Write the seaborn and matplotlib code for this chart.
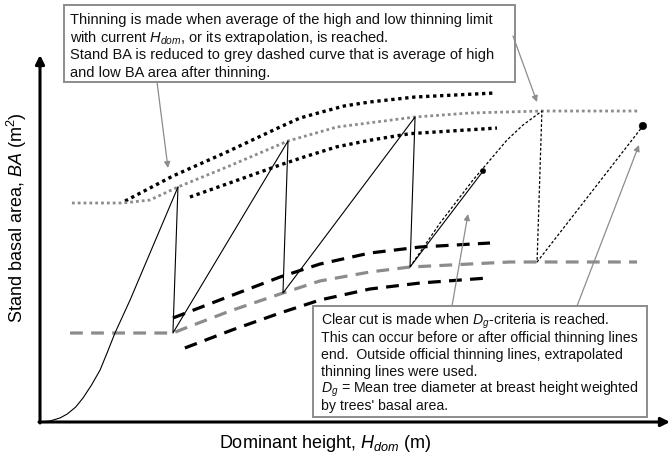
import matplotlib
matplotlib.use("Agg")
import matplotlib.pyplot as plt
import seaborn as sns
from matplotlib.patches import Rectangle

sns.set_theme(style="white")
plt.rcParams["font.family"] = ["Liberation Sans", "DejaVu Sans"]
plt.rcParams["mathtext.fontset"] = "custom"
plt.rcParams["mathtext.rm"] = "Liberation Sans"
plt.rcParams["mathtext.it"] = "Liberation Sans:italic"
plt.rcParams["mathtext.bf"] = "Liberation Sans:bold"

# ---- schematic curves: dominant height (x) vs stand basal area (y) ----
# initial stand development
growth0_h = [0.0, 0.48, 0.95, 1.30, 1.70, 2.05, 2.45, 2.86, 3.20, 3.57, 4.29, 6.57]
growth0_ba = [0.0, 0.14, 0.55, 1.10, 2.05, 3.30, 5.05, 7.12, 9.50, 12.19, 16.71, 32.19]

# upper thinning limit (before thinning), high and low
limit_hi_h = [4.05, 6.33, 8.90, 11.43, 12.38, 13.33, 14.50, 15.71, 17.86, 21.67]
limit_hi_ba = [30.27, 33.70, 36.99, 40.41, 41.64, 42.40, 43.30, 43.84, 44.52, 45.07]
limit_lo_h = [7.14, 9.29, 11.43, 12.57, 14.14, 15.71, 17.62, 21.76]
limit_lo_ba = [30.82, 33.01, 35.21, 36.30, 37.70, 38.60, 39.50, 40.27]
# average thinning limit (grey dotted)
limit_avg_h = [1.52, 3.95, 5.24, 6.57, 8.90, 11.81, 14.14, 17.86, 20.48, 23.90, 28.57]
limit_avg_ba = [30.0, 30.0, 30.41, 32.19, 34.93, 38.49, 40.41, 41.78, 42.33, 42.60, 42.60]

# basal area after thinning, high and low
after_hi_h = [6.33, 8.81, 11.43, 13.33, 15.71, 18.10, 21.43]
after_hi_ba = [14.25, 16.99, 19.86, 21.64, 23.15, 23.97, 24.52]
after_lo_h = [6.90, 9.14, 11.43, 13.33, 15.71, 18.10, 21.33]
after_lo_ba = [10.14, 12.60, 14.93, 16.71, 18.22, 19.04, 19.73]
# average BA after thinning (grey dashed)
after_avg_h = [1.43, 6.33, 6.81, 9.05, 11.57, 13.33, 15.71, 17.62, 22.38, 28.43]
after_avg_ba = [12.19, 12.19, 12.74, 15.21, 17.67, 19.32, 20.55, 21.23, 21.92, 21.92]

# growth and thinning path (thin solid)
path_h = [6.57, 6.33, 11.81, 11.57, 17.86, 17.62, 21.10]
path_ba = [32.19, 12.19, 38.49, 17.67, 41.78, 21.23, 34.38]

# extrapolated path (thin dotted)
extra_h = [17.62, 19.05, 20.62, 22.24, 23.00, 23.90, 23.67, 28.71]
extra_ba = [21.23, 27.26, 33.15, 38.63, 40.68, 42.60, 21.92, 40.55]

# clear-cut points
cut_h = [21.10, 28.71]
cut_ba = [34.38, 40.55]
cut_size = [14, 30]

GREY = "#8c8c8c"

fig = plt.figure(figsize=(6.7, 4.55), dpi=100)
ax = fig.add_axes([40 / 670, 33 / 455, 630 / 670, 365 / 455])
ax.set_xlim(0, 30)
ax.set_ylim(0, 50)
ax.set_xticks([])
ax.set_yticks([])
for sp in ax.spines.values():
    sp.set_visible(False)
ax.patch.set_alpha(0)


def curve(h, ba, **kw):
    sns.lineplot(x=h, y=ba, ax=ax, sort=False, estimator=None, **kw)


dot_style = (0, (1, 1.1))
dash_style = (0, (4, 2.6))

curve(limit_hi_h, limit_hi_ba, color="black", lw=2.4, linestyle=dot_style)
curve(limit_lo_h, limit_lo_ba, color="black", lw=2.4, linestyle=dot_style)
curve(limit_avg_h, limit_avg_ba, color=GREY, lw=2.0, linestyle=dot_style)

curve(after_hi_h, after_hi_ba, color="black", lw=2.3, linestyle=dash_style)
curve(after_lo_h, after_lo_ba, color="black", lw=2.3, linestyle=dash_style)
curve(after_avg_h, after_avg_ba, color=GREY, lw=2.3, linestyle=dash_style)

curve(growth0_h, growth0_ba, color="black", lw=0.8)
curve(path_h, path_ba, color="black", lw=0.8)
curve(extra_h, extra_ba, color="black", lw=0.9, linestyle=(0, (2.2, 1.6)))

sns.scatterplot(x=cut_h, y=cut_ba, size=cut_size, sizes=(14, 30), color="black",
                edgecolor="black", ax=ax, legend=False, zorder=5)
ax.set_xlabel("")
ax.set_ylabel("")

# ---- overlay in pixel units for axes arrows, titles, notes and pointers ----
ov = fig.add_axes([0, 0, 1, 1], zorder=3)
ov.set_xlim(0, 670)
ov.set_ylim(455, 0)
ov.axis("off")

ov.text(325, 443, r"Dominant height, $H_{dom}$ (m)", fontsize=13, ha="center",
        va="center", color="black")
ov.text(17, 218, r"Stand basal area, $BA$ (m$^2$)", fontsize=13, ha="center",
        va="center", rotation=90, color="black")

axis_arrow = dict(arrowstyle="-|>", color="black", lw=2.2, mutation_scale=13,
                  shrinkA=0, shrinkB=0)
ov.annotate("", xy=(40, 55), xytext=(40, 423), arrowprops=axis_arrow)
ov.annotate("", xy=(670, 422), xytext=(39, 422), arrowprops=axis_arrow)

ov.add_patch(Rectangle((64, 5), 451, 77, facecolor="white", edgecolor=GREY, lw=1.4))
top_lines = [
    "Thinning is made when average of the high and low thinning limit",
    r"with current $H_{dom}$, or its extrapolation, is reached.",
    "Stand BA is reduced to grey dashed curve that is average of high",
    "and low BA area after thinning.",
]
for i, line in enumerate(top_lines):
    ov.text(70, 24 + 17.7 * i, line, fontsize=10.5, va="baseline", ha="left",
            color="#111111")

ov.add_patch(Rectangle((313, 306), 334, 111, facecolor="white", edgecolor=GREY, lw=1.4))
bottom_lines = [
    r"Clear cut is made when $D_g$-criteria is reached.",
    "This can occur before or after official thinning lines",
    "end.  Outside official thinning lines, extrapolated",
    "thinning lines were used.",
    r"$D_g$ = Mean tree diameter at breast height weighted",
    "by trees' basal area.",
]
for i, line in enumerate(bottom_lines):
    ov.text(321, 325 + 17 * i, line, fontsize=10.2, va="baseline", ha="left",
            color="#111111")

pointer = dict(arrowstyle="-|>", color=GREY, lw=0.9, mutation_scale=9,
               shrinkA=0, shrinkB=0)
ov.annotate("", xy=(168, 168), xytext=(157, 82), arrowprops=pointer)
ov.annotate("", xy=(537, 102), xytext=(513, 36), arrowprops=pointer)
ov.annotate("", xy=(468, 214), xytext=(452, 306), arrowprops=pointer)
ov.annotate("", xy=(639, 145), xytext=(577, 306), arrowprops=pointer)

fig.savefig("out.png", dpi=100)
